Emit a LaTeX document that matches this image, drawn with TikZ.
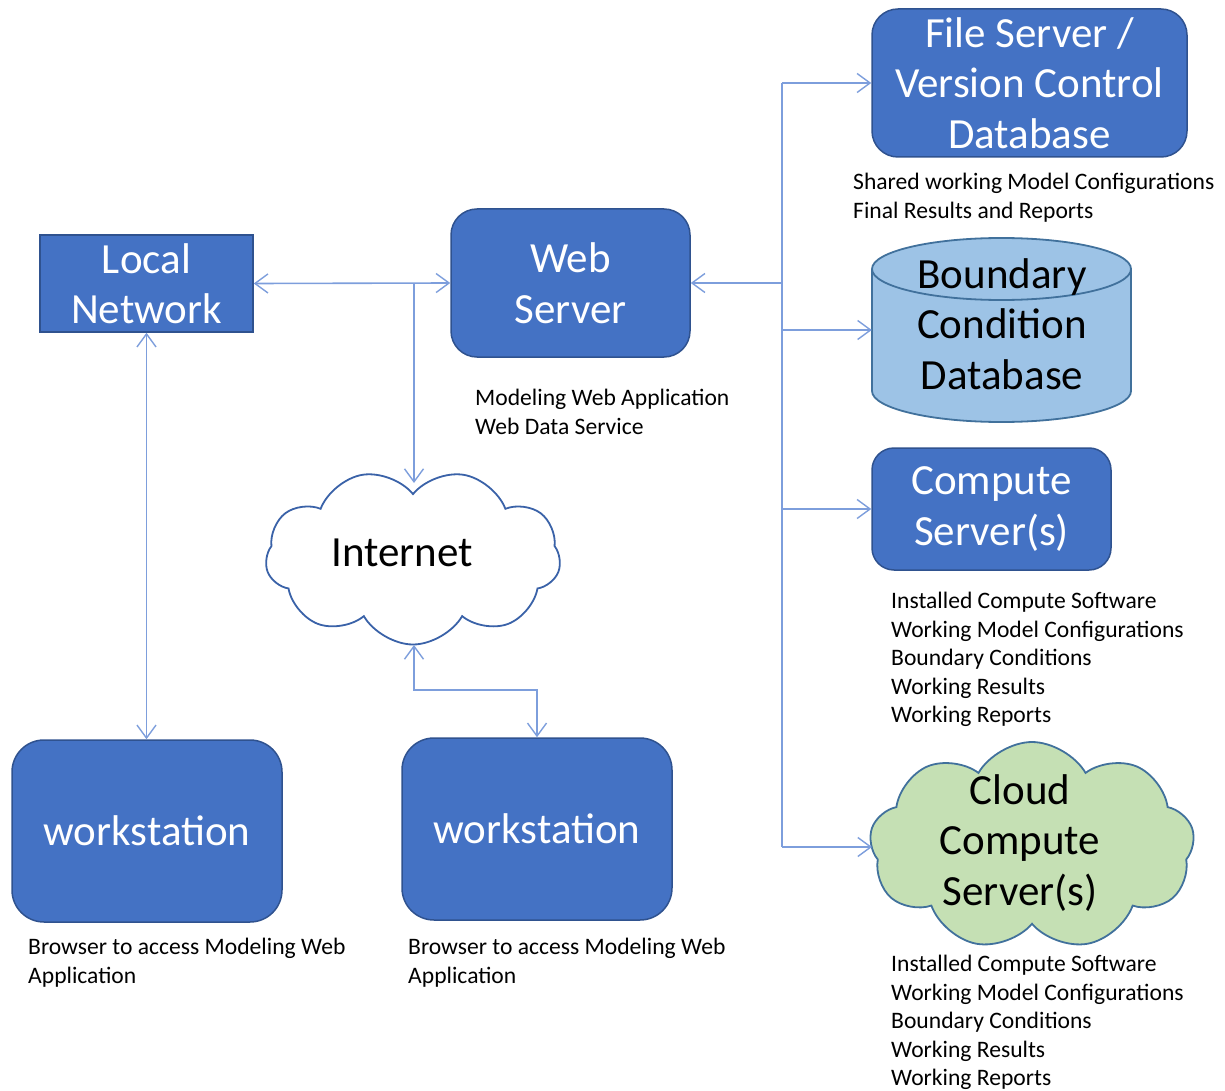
\documentclass[tikz,border=0pt]{standalone}
\usepackage{fontspec}
\setmainfont{Carlito}
\usetikzlibrary{arrows.meta,shapes.symbols}
\definecolor{boxfill}{HTML}{4472C4}
\definecolor{boxline}{HTML}{2F528F}
\definecolor{conn}{RGB}{125,158,220}
\definecolor{cylfill}{HTML}{9DC3E6}
\definecolor{cylline}{HTML}{41719C}
\definecolor{cloudgreen}{HTML}{C5E0B4}
\definecolor{inetline}{RGB}{58,98,168}
\newcommand\BigTxt{\fontsize{43}{50.5}\selectfont}
\newcommand\SmallTxt{\fontsize{23.6}{28.6}\selectfont}
\begin{document}
\begin{tikzpicture}[x=1pt,y=-1pt,
  box/.style={draw=boxline,fill=boxfill,line width=1.5pt,text=white,align=center,font=\BigTxt,inner sep=0pt},
  conn/.style={draw=conn,line width=1.6pt},
  tip/.tip={Straight Barb[length=13pt,width=19pt,line width=1.4pt]},
  lbl/.style={anchor=north west,align=left,font=\SmallTxt,inner sep=0pt,text=black},
  cloudshape/.style={cloud,cloud puffs=9,cloud puff arc=120,line width=1.8pt,inner sep=0pt}]
\useasboundingbox (0,0) rectangle (1225,1091);
% nodes
\node[box,minimum width=213,minimum height=97] (ln) at (146.5,283.5) {Local\\Network};
\node[box,rounded corners=26,minimum width=239,minimum height=148] (ws) at (570.5,283) {Web\\Server};
\node[box,rounded corners=26,minimum width=315,minimum height=148] (fs) at (1029.5,83) {File Server /\\Version Control\\Database};
\node[box,rounded corners=22,minimum width=239,minimum height=122] (cs) at (991.5,509) {Compute\\Server(s)};
\node[box,rounded corners=32,minimum width=270,minimum height=182] (w1) at (147,831) {workstation};
\node[box,rounded corners=32,minimum width=270,minimum height=182] (w2) at (537,829) {workstation};
% cylinder
\begin{scope}[line width=1.8pt]
\fill[cylfill] (1001.5,391) ellipse [x radius=129.5,y radius=31];
\fill[cylfill] (872,269) rectangle (1131,391);
\draw[cylline] (872,269) -- (872,391) (1131,269) -- (1131,391);
\begin{scope}
\clip (860,391) rectangle (1145,430);
\draw[cylline] (1001.5,391) ellipse [x radius=129.5,y radius=31];
\end{scope}
\filldraw[fill=cylfill,draw=cylline] (1001.5,269) ellipse [x radius=129.5,y radius=31];
\end{scope}
\node[minimum width=259,minimum height=184,inner sep=0pt] (bcd) at (1001.5,330) {};
\node[align=center,font=\BigTxt,inner sep=0pt] (bcdtxt) at (1002,324) {Boundary\\Condition\\Database};
% clouds
\node[cloudshape,rotate=180,draw=inetline,fill=white,minimum width=295,minimum height=175] (inet) at (413,557) {};
\node[font=\BigTxt,inner sep=0pt] (inettxt) at (402,553) {Internet};
\node[cloudshape,draw=cylline,fill=cloudgreen,minimum width=325,minimum height=208] (cc) at (1032,846) {};
\node[font=\BigTxt,align=center,inner sep=0pt] (cctxt) at (1020,843) {Cloud\\Compute\\Server(s)};
% connectors
\coordinate (j1) at (414,284);
\coordinate (inetTop) at (414,483);
\coordinate (inetBot) at (414,645);
\coordinate (bus) at (782,0);
\coordinate (ccW) at (872,847);
\draw[conn,{tip}-{tip}] (ln.east) -- (ws.west);
\draw[conn,-{tip}] (j1) -- (inetTop);
\draw[conn,{tip}-{tip}] (ln.south) -- (ln.south |- w1.north);
\draw[conn,{tip}-{tip}] (inetBot) -- ++(0,45) -| (w2.north);
\draw[conn] (bus |- fs.west) -- (bus |- ccW);
\draw[conn,-{tip}] (bus |- ws.east) -- (ws.east);
\draw[conn,-{tip}] (bus |- fs.west) -- (fs.west);
\draw[conn,-{tip}] (bus |- bcd.west) -- (bcd.west);
\draw[conn,-{tip}] (bus |- cs.west) -- (cs.west);
\draw[conn,-{tip}] (bus |- ccW) -- (ccW);
% labels
\node[lbl] (l1) at (853,173) {Shared working Model Configurations\\Final Results and Reports};
\node[lbl] (l2) at (475,389) {Modeling Web Application\\Web Data Service};
\node[lbl] (l3) at (891,592) {Installed Compute Software\\Working Model Configurations\\Boundary Conditions\\Working Results\\Working Reports};
\node[lbl] (l4) at (891,955) {Installed Compute Software\\Working Model Configurations\\Boundary Conditions\\Working Results\\Working Reports};
\node[lbl] (l5) at (28,938) {Browser to access Modeling Web\\Application};
\node[lbl] (l6) at (408,938) {Browser to access Modeling Web\\Application};
\end{tikzpicture}
\end{document}
